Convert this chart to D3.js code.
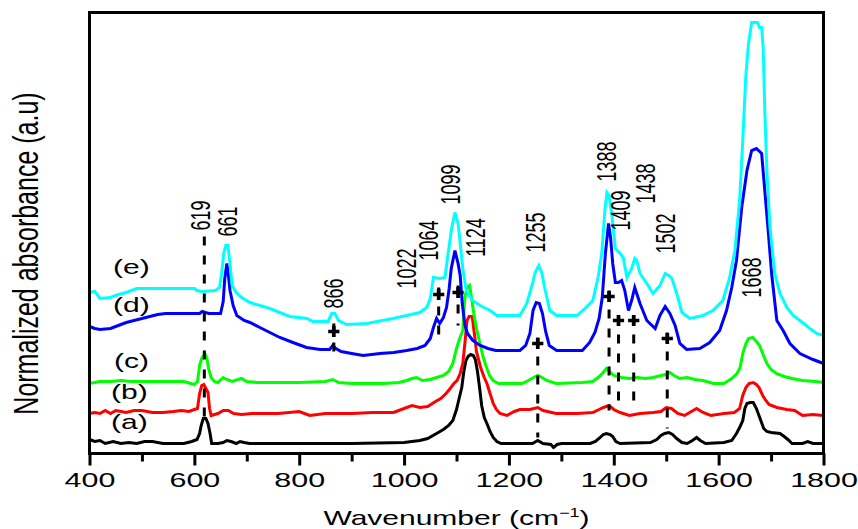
<!DOCTYPE html>
<html>
<head>
<meta charset="utf-8">
<script src="https://cdn.jsdelivr.net/npm/d3@7"></script>
<style>
  body { margin: 0; background: #fff; }
  text { font-family: "Liberation Sans", Arial, sans-serif; fill: #000; }
</style>
</head>
<body>
<div id="chart"></div>
<script>
// FTIR spectra, wavenumber (cm-1) vs normalized absorbance (stacked, a.u.)
var specA = [[400,0.14],[410,0.12],[420,0.13],[430,0.10],[445,0.12],[460,0.10],[475,0.11],[490,0.10],[505,0.12],[520,0.12],[540,0.10],[580,0.10],[595,0.12],[605,0.14],[610,0.20],[613,0.28],[617,0.35],[622,0.35],[626,0.30],[630,0.20],[633,0.10],[645,0.10],[655,0.11],[662,0.13],[670,0.12],[680,0.10],[687,0.12],[695,0.11],[705,0.10],[900,0.10],[1000,0.11],[1030,0.13],[1045,0.15],[1062,0.20],[1075,0.24],[1085,0.28],[1093,0.33],[1100,0.44],[1105,0.55],[1110,0.66],[1114,0.82],[1118,0.93],[1122,0.97],[1127,0.99],[1132,0.98],[1136,0.94],[1140,0.82],[1144,0.66],[1148,0.48],[1153,0.36],[1158,0.30],[1164,0.22],[1170,0.16],[1177,0.12],[1185,0.10],[1245,0.10],[1255,0.13],[1265,0.10],[1280,0.09],[1285,0.06],[1292,0.09],[1300,0.10],[1355,0.10],[1365,0.12],[1374,0.16],[1380,0.19],[1386,0.20],[1393,0.19],[1398,0.17],[1404,0.12],[1412,0.10],[1470,0.11],[1482,0.14],[1490,0.18],[1497,0.20],[1505,0.21],[1512,0.19],[1520,0.15],[1530,0.11],[1540,0.10],[1550,0.13],[1558,0.16],[1565,0.13],[1575,0.10],[1610,0.11],[1625,0.13],[1634,0.20],[1640,0.26],[1646,0.33],[1650,0.45],[1654,0.50],[1660,0.51],[1666,0.51],[1672,0.45],[1679,0.35],[1686,0.25],[1692,0.22],[1700,0.21],[1717,0.20],[1725,0.17],[1732,0.14],[1740,0.10],[1760,0.10],[1770,0.12],[1780,0.10],[1800,0.10]];

var specB = [[400,0.40],[410,0.41],[420,0.40],[430,0.43],[440,0.40],[450,0.43],[460,0.42],[470,0.41],[485,0.43],[500,0.43],[520,0.41],[540,0.41],[560,0.42],[575,0.43],[590,0.42],[600,0.44],[606,0.45],[610,0.60],[614,0.68],[618,0.69],[622,0.65],[626,0.61],[629,0.45],[632,0.38],[645,0.40],[655,0.43],[665,0.43],[675,0.40],[690,0.39],[710,0.40],[760,0.40],[800,0.42],[820,0.38],[850,0.40],[900,0.40],[940,0.41],[980,0.41],[1000,0.45],[1015,0.48],[1030,0.46],[1045,0.47],[1060,0.52],[1070,0.55],[1080,0.60],[1088,0.65],[1095,0.70],[1101,0.73],[1107,0.80],[1112,0.90],[1116,1.10],[1120,1.33],[1124,1.37],[1130,1.37],[1135,1.16],[1138,1.02],[1141,0.96],[1145,0.88],[1148,0.83],[1153,0.76],[1158,0.70],[1164,0.60],[1170,0.50],[1176,0.44],[1183,0.40],[1196,0.38],[1210,0.42],[1221,0.44],[1240,0.44],[1255,0.46],[1265,0.43],[1290,0.40],[1330,0.40],[1360,0.41],[1372,0.44],[1380,0.46],[1391,0.48],[1400,0.44],[1412,0.41],[1430,0.38],[1450,0.40],[1475,0.41],[1490,0.42],[1500,0.46],[1510,0.45],[1522,0.40],[1535,0.38],[1548,0.42],[1558,0.45],[1570,0.41],[1585,0.38],[1610,0.40],[1630,0.41],[1640,0.45],[1646,0.58],[1652,0.66],[1658,0.70],[1666,0.71],[1672,0.69],[1677,0.66],[1684,0.58],[1690,0.53],[1696,0.49],[1711,0.46],[1730,0.44],[1745,0.43],[1760,0.38],[1780,0.39],[1800,0.38]];

var specC = [[400,0.70],[410,0.71],[420,0.72],[440,0.72],[460,0.73],[480,0.72],[540,0.72],[580,0.72],[600,0.69],[606,0.72],[610,0.88],[614,0.95],[620,1.00],[624,0.95],[627,0.85],[632,0.76],[638,0.72],[645,0.71],[655,0.76],[662,0.74],[672,0.72],[690,0.75],[700,0.72],[720,0.71],[800,0.71],[850,0.72],[864,0.74],[875,0.71],[900,0.70],[960,0.70],[990,0.71],[1005,0.73],[1015,0.75],[1024,0.76],[1035,0.73],[1050,0.74],[1062,0.76],[1075,0.78],[1085,0.82],[1093,0.90],[1100,1.05],[1106,1.15],[1112,1.23],[1116,1.56],[1120,1.66],[1125,1.68],[1129,1.55],[1133,1.40],[1138,1.25],[1144,1.12],[1150,0.98],[1156,0.88],[1163,0.78],[1170,0.73],[1180,0.70],[1225,0.70],[1237,0.73],[1247,0.76],[1255,0.78],[1263,0.76],[1272,0.73],[1290,0.70],[1340,0.71],[1360,0.72],[1370,0.76],[1378,0.80],[1386,0.85],[1392,0.82],[1400,0.78],[1415,0.76],[1430,0.75],[1445,0.76],[1460,0.75],[1475,0.76],[1490,0.78],[1500,0.79],[1507,0.81],[1515,0.78],[1526,0.75],[1540,0.76],[1555,0.74],[1570,0.73],[1590,0.70],[1610,0.70],[1625,0.75],[1635,0.80],[1641,0.86],[1646,1.00],[1652,1.10],[1657,1.15],[1665,1.16],[1672,1.12],[1678,1.08],[1684,1.00],[1692,0.90],[1700,0.84],[1710,0.80],[1725,0.77],[1740,0.75],[1760,0.73],[1785,0.72],[1800,0.71]];

var specD = [[400,1.27],[410,1.25],[420,1.24],[440,1.25],[455,1.28],[470,1.31],[485,1.33],[500,1.35],[515,1.37],[530,1.39],[545,1.40],[600,1.40],[610,1.40],[615,1.42],[621,1.41],[628,1.40],[650,1.40],[655,1.52],[658,1.75],[662,1.90],[665,1.78],[668,1.63],[674,1.48],[681,1.38],[695,1.33],[706,1.31],[725,1.26],[744,1.21],[763,1.16],[788,1.11],[814,1.06],[840,1.04],[858,1.04],[864,1.08],[870,1.05],[880,1.02],[900,1.00],[922,0.98],[954,1.00],[980,1.01],[1005,1.03],[1025,1.05],[1040,1.08],[1050,1.15],[1056,1.26],[1062,1.35],[1068,1.30],[1075,1.36],[1081,1.46],[1086,1.65],[1090,1.85],[1097,2.03],[1103,1.90],[1107,1.78],[1111,1.50],[1116,1.28],[1121,1.20],[1131,1.13],[1145,1.08],[1160,1.05],[1175,1.03],[1221,1.03],[1232,1.08],[1240,1.20],[1246,1.43],[1252,1.51],[1258,1.50],[1264,1.40],[1270,1.22],[1277,1.08],[1291,1.03],[1340,1.03],[1354,1.11],[1364,1.21],[1372,1.35],[1378,1.56],[1384,2.00],[1390,2.30],[1394,2.15],[1398,1.90],[1403,1.71],[1409,1.71],[1415,1.73],[1421,1.63],[1428,1.43],[1434,1.53],[1440,1.66],[1445,1.58],[1450,1.50],[1463,1.33],[1479,1.25],[1488,1.38],[1498,1.47],[1507,1.40],[1517,1.28],[1526,1.10],[1539,1.04],[1564,1.05],[1583,1.11],[1602,1.23],[1615,1.43],[1625,1.66],[1634,1.93],[1644,2.46],[1654,2.83],[1663,3.03],[1672,3.05],[1682,3.00],[1688,2.63],[1695,2.20],[1701,1.80],[1711,1.33],[1723,1.23],[1736,1.10],[1755,1.00],[1780,0.94],[1800,0.90]];

var specE = [[400,1.61],[410,1.62],[420,1.55],[440,1.56],[455,1.59],[470,1.61],[490,1.65],[550,1.65],[600,1.65],[605,1.63],[615,1.62],[640,1.63],[648,1.66],[652,1.80],[656,2.00],[660,2.08],[664,2.08],[668,1.90],[672,1.68],[680,1.61],[690,1.56],[706,1.51],[725,1.48],[744,1.45],[763,1.41],[782,1.37],[815,1.35],[826,1.32],[855,1.32],[862,1.40],[868,1.40],[875,1.33],[891,1.29],[929,1.30],[979,1.35],[1005,1.38],[1030,1.41],[1043,1.46],[1050,1.55],[1056,1.76],[1068,1.75],[1078,1.76],[1084,2.00],[1091,2.26],[1097,2.41],[1103,2.30],[1106,2.16],[1112,1.85],[1118,1.65],[1124,1.58],[1131,1.53],[1145,1.48],[1164,1.43],[1177,1.38],[1221,1.38],[1234,1.50],[1245,1.70],[1250,1.81],[1257,1.88],[1263,1.80],[1268,1.66],[1278,1.43],[1291,1.38],[1330,1.38],[1345,1.45],[1360,1.53],[1370,1.76],[1377,2.00],[1383,2.43],[1387,2.61],[1391,2.58],[1396,2.40],[1403,2.05],[1412,2.00],[1418,1.96],[1425,1.76],[1434,1.85],[1440,1.95],[1444,1.93],[1450,1.80],[1463,1.70],[1475,1.60],[1488,1.68],[1498,1.80],[1505,1.78],[1511,1.75],[1520,1.60],[1530,1.41],[1545,1.35],[1570,1.38],[1589,1.43],[1608,1.53],[1621,1.76],[1631,2.03],[1640,2.53],[1646,3.13],[1652,3.79],[1657,4.10],[1663,4.31],[1674,4.31],[1678,4.26],[1682,4.26],[1685,4.05],[1688,3.43],[1692,2.83],[1698,2.26],[1707,1.80],[1717,1.60],[1730,1.46],[1742,1.38],[1755,1.33],[1774,1.25],[1787,1.20],[1800,1.18]];

var seriesNames = ["(a)", "(b)", "(c)", "(d)", "(e)"];
var seriesColors = ["#000000", "#ff0000", "#00ff00", "#0000ff", "#00ffff"];
// where each series name sits: [wavenumber, a.u.]
var seriesLabelPos = [[476, 0.30], [476, 0.60], [480, 0.91], [480, 1.47], [480, 1.85]];

var xMajorTicks = [400, 600, 800, 1000, 1200, 1400, 1600, 1800];
var xMinorTicks = [500, 700, 900, 1100, 1300, 1500, 1700];

// band labels: text, wavenumber, a.u. of label centre
var bandLabels = ["619", "661", "866", "1022", "1064", "1099", "1124", "1255", "1388", "1409", "1438", "1502", "1668"];
var bandLabelX = [611, 664, 866, 1004, 1046, 1089, 1137, 1250, 1387, 1412, 1461, 1498, 1663];
var bandLabelY = [2.38, 2.32, 1.60, 1.85, 2.13, 2.69, 2.16, 2.21, 2.92, 2.43, 2.70, 2.20, 1.76];

// dashed guide lines: wavenumber, top a.u., bottom a.u.
var guideWave = [619, 866, 1066, 1103, 1255, 1391, 1409, 1438, 1502];
var guideTop = [2.17, 1.30, 1.66, 1.68, 1.16, 1.63, 1.38, 1.38, 1.21];
var guideBottom = [0.35, 0.93, 1.10, 1.28, 0.16, 0.43, 0.43, 0.45, 0.25];
// "+" markers on the guides (no marker on 619)
var markWave = [866, 1066, 1103, 1255, 1391, 1409, 1438, 1502];
var markY = [1.22, 1.59, 1.61, 1.10, 1.57, 1.33, 1.33, 1.15];

var width = 858, height = 529;
var margin = {top: 12.5, right: 34.5, bottom: 75.5, left: 89.5};
var stretch = 1.45;

var svg = d3.select("#chart")
  .append("svg")
  .attr("width", width)
  .attr("height", height);

var x = d3.scaleLinear()
  .domain([400, 1800])
  .range([margin.left, width - margin.right]);

var y = d3.scaleLinear()
  .domain([0, 4.41])
  .range([height - margin.bottom, margin.top]);

var plotBottom = height - margin.bottom;

// Spectra
var line = d3.line()
  .x(d => x(d[0]))
  .y(d => y(d[1]));

var allSpecs = [specA, specB, specC, specD, specE];
svg.append("g").selectAll("path")
  .data(allSpecs)
  .enter()
  .append("path")
  .attr("d", d => line(d))
  .attr("fill", "none")
  .attr("stroke", (d, i) => seriesColors[i])
  .attr("stroke-width", 3)
  .attr("stroke-linejoin", "miter");

// Dashed guides
svg.append("g").selectAll("line")
  .data(guideWave)
  .enter()
  .append("line")
  .attr("x1", d => x(d))
  .attr("x2", d => x(d))
  .attr("y1", (d, i) => y(guideTop[i]))
  .attr("y2", (d, i) => y(guideBottom[i]))
  .attr("stroke", "#000")
  .attr("stroke-width", 3)
  .attr("stroke-dasharray", "9,10");

// Plus markers
svg.append("g").selectAll("path")
  .data(markWave)
  .enter()
  .append("path")
  .attr("d", d3.symbol().type(d3.symbolCross).size(70))
  .attr("transform", (d, i) => `translate(${x(d)},${y(markY[i])})`)
  .attr("fill", "#000");

// Frame
svg.append("rect")
  .attr("x", margin.left)
  .attr("y", margin.top)
  .attr("width", width - margin.left - margin.right)
  .attr("height", plotBottom - margin.top)
  .attr("fill", "none")
  .attr("stroke", "#000")
  .attr("stroke-width", 3);

// x axis, major and minor ticks
var xAxis = svg.append("g")
  .attr("transform", `translate(0, ${plotBottom})`)
  .call(d3.axisBottom(x).tickValues(xMajorTicks).tickSize(12).tickFormat(d3.format("d")));
xAxis.select(".domain").remove();
xAxis.selectAll(".tick line").attr("stroke-width", 3);
xAxis.selectAll(".tick text")
  .attr("y", 33.5)
  .attr("dy", null)
  .attr("transform", `scale(${stretch},1)`)
  .style("font-size", "21px")
  .style("font-family", "'Liberation Sans', Arial, sans-serif")
  .attr("fill", "#000");

var xMinor = svg.append("g")
  .attr("transform", `translate(0, ${plotBottom})`)
  .call(d3.axisBottom(x).tickValues(xMinorTicks).tickSize(8).tickFormat(""));
xMinor.select(".domain").remove();
xMinor.selectAll(".tick line").attr("stroke-width", 3);

// Axis titles
var xTitle = svg.append("text")
  .attr("transform", `translate(${(x(400) + x(1800)) / 2}, 525) scale(1.5,1)`)
  .attr("text-anchor", "middle")
  .style("font-size", "20px");
xTitle.append("tspan").text("Wavenumber (cm");
xTitle.append("tspan").attr("dy", -8).style("font-size", "12px").text("−1");
xTitle.append("tspan").attr("dy", 8).text(")");

svg.append("text")
  .attr("transform", `translate(38, 253.5) scale(1.4,1) rotate(-90)`)
  .attr("text-anchor", "middle")
  .style("font-size", "25px")
  .text("Normalized absorbance (a.u)");

// Series names
svg.append("g").selectAll("text")
  .data(seriesNames)
  .enter()
  .append("text")
  .attr("transform", (d, i) => `translate(${x(seriesLabelPos[i][0])},${y(seriesLabelPos[i][1])}) scale(1.5,1)`)
  .attr("text-anchor", "middle")
  .attr("dy", "0.26em")
  .style("font-size", "20px")
  .text(d => d);

// Band labels, rotated
svg.append("g").selectAll("text")
  .data(bandLabels)
  .enter()
  .append("text")
  .attr("transform", (d, i) => `translate(${x(bandLabelX[i]) + 9.5},${y(bandLabelY[i])}) scale(1.5,1) rotate(-90)`)
  .attr("text-anchor", "middle")
  .style("font-size", "18px")
  .text(d => d);
</script>
</body>
</html>
